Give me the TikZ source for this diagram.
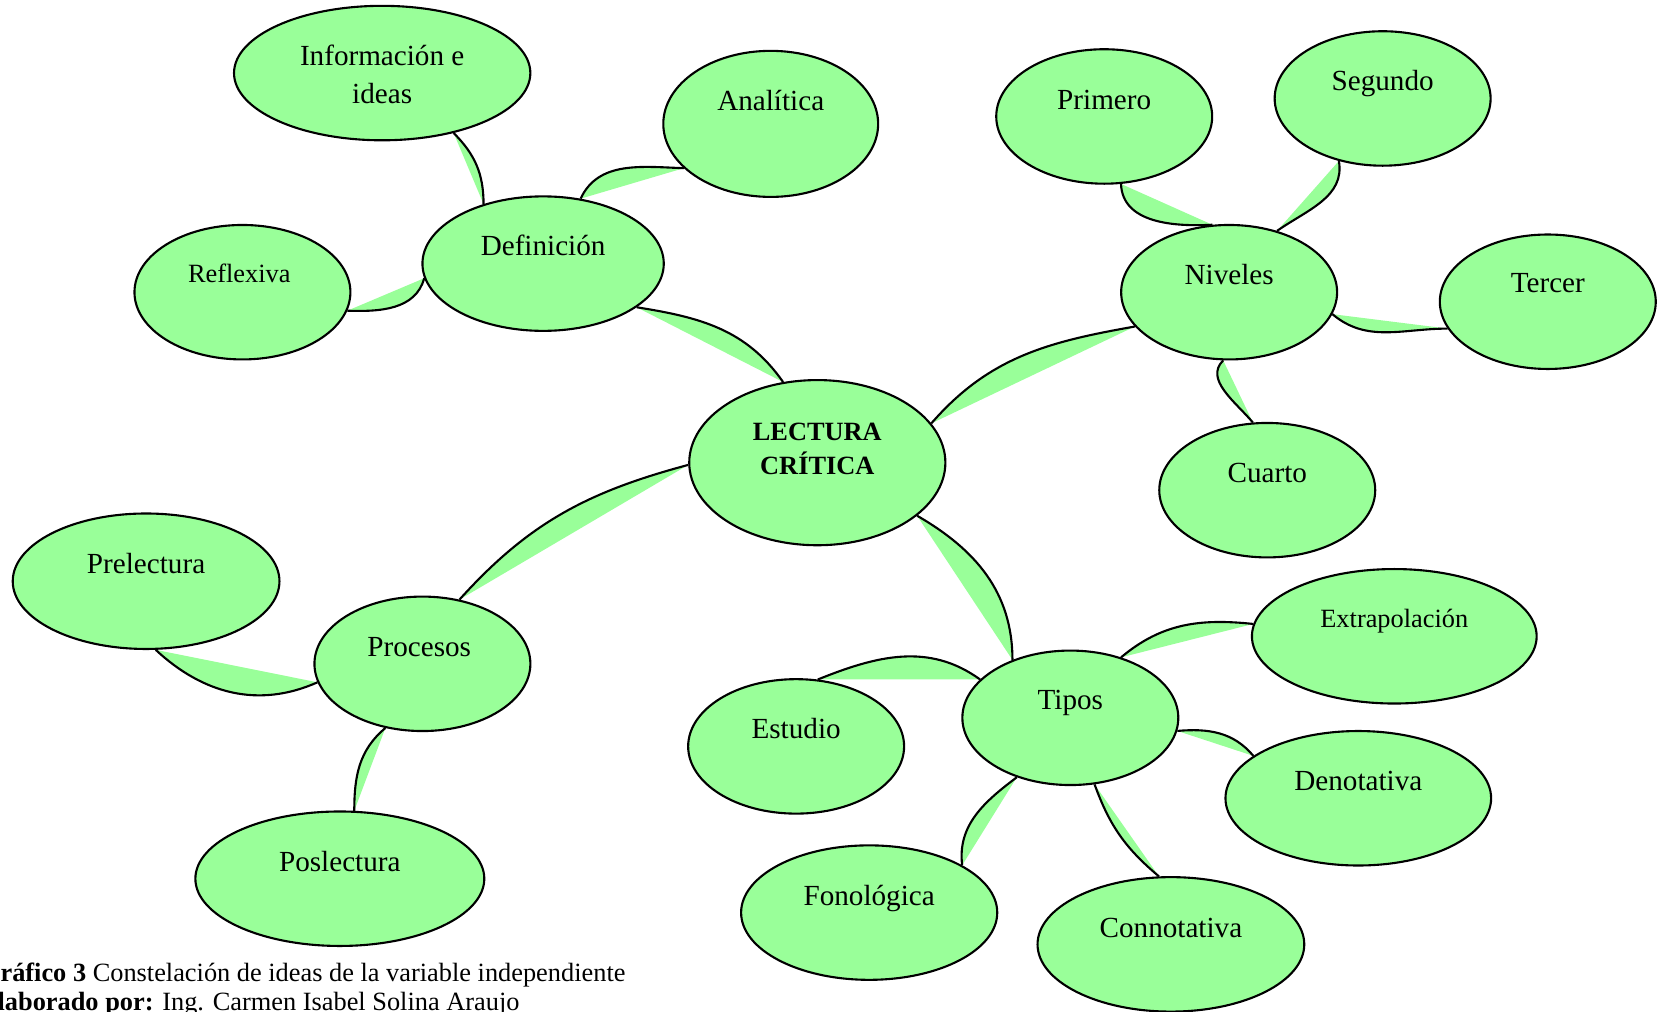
\documentclass[tikz,border=0pt]{standalone}
\usepackage{fontspec}
\setmainfont{Liberation Serif}
\usetikzlibrary{shapes.geometric,backgrounds}
\definecolor{black}{RGB}{0,0,0}
\definecolor{light_green}{RGB}{153,255,153}

\begin{document}
\begin{tikzpicture}[x=0.010587cm,y=-0.010587cm,
	idea/.style={ellipse,draw=black,fill=light_green,line width=0.6pt,inner sep=0pt,minimum width=2.16cm,minimum height=1.345cm},
	word/.style={inner sep=0pt,font=\fontsize{8.3}{10.8}\selectfont,text height=1.5ex,text depth=.25ex},
	small_word/.style={word,font=\fontsize{7.5}{9}\selectfont},
	leaf/.style={fill=light_green},
	stem/.style={draw=black,line width=0.6pt}]
	\useasboundingbox (0,0) rectangle (1568,955);

	\node[idea,minimum width=2.562cm,minimum height=1.652cm] (lec) at (772,437) {};
	\node[idea,minimum width=2.414cm] (def) at (513,249) {};
	\node[idea,minimum width=2.964cm] (inf) at (361,69) {};
	\node[idea,minimum width=2.149cm,minimum height=1.461cm] (ana) at (728,117) {};
	\node[idea] (ref) at (229,276) {};
	\node[idea] (niv) at (1161,276) {};
	\node[idea] (pri) at (1043,110) {};
	\node[idea] (seg) at (1306,93) {};
	\node[idea] (ter) at (1462,285) {};
	\node[idea] (cua) at (1197,463) {};
	\node[idea] (pro) at (399,627) {};
	\node[idea,minimum width=2.668cm,minimum height=1.355cm] (pre) at (138,549) {};
	\node[idea,minimum width=2.890cm] (pos) at (321,830) {};
	\node[idea] (tip) at (1011,678) {};
	\node[idea] (est) at (752,705) {};
	\node[idea,minimum width=2.848cm] (ext) at (1317,601) {};
	\node[idea,minimum width=2.657cm] (den) at (1283,754) {};
	\node[idea,minimum width=2.562cm] (fon) at (821,862) {};
	\node[idea,minimum width=2.668cm] (con) at (1106,892) {};

	\node[inner sep=0pt,align=center,font=\fontsize{7.5}{9.94}\selectfont\bfseries] (lec_t) at (772,424) {LECTURA\\CRÍTICA};
	\node[inner sep=0pt,align=center,font=\fontsize{8.3}{10.85}\selectfont] (inf_t) at (361,70) {Información e\\ideas};
	\node[word] (def_t) at (513,232) {Definición};
	\node[word] (ana_t) at (728,95) {Analítica};
	\node[small_word] (ref_t) at (226,257) {Reflexiva};
	\node[word] (niv_t) at (1161,259) {Niveles};
	\node[word] (pri_t) at (1043,94) {Primero};
	\node[word] (seg_t) at (1306,76) {Segundo};
	\node[word] (ter_t) at (1462,267) {Tercer};
	\node[word] (cua_t) at (1197,446) {Cuarto};
	\node[word] (pro_t) at (396,611) {Procesos};
	\node[word] (pre_t) at (138,532) {Prelectura};
	\node[word] (pos_t) at (321,814) {Poslectura};
	\node[word] (tip_t) at (1011,661) {Tipos};
	\node[word] (est_t) at (752,688) {Estudio};
	\node[small_word] (ext_t) at (1317,583) {Extrapolación};
	\node[word] (den_t) at (1283,737) {Denotativa};
	\node[word] (fon_t) at (821,846) {Fonológica};
	\node[word] (con_t) at (1106,876) {Connotativa};

	\begin{scope}[on background layer]
		\foreach \a/\b/\o/\i in {def.-25/lec.113/-9/125, niv.200/lec.19/190/49, lec.181/pro.60/195/48,
			lec.-28/tip.135/-30/90, inf.-40/def.135/-45/90, ana.207/def.60/178/65, ref.-10/def.187/-2/-105,
			pri.-76/niv.104/-88/183, seg.235/niv.52/-80/35, niv.-12/ter.195/-40/180, niv.-95/cua.102/225/130,
			pro.190/pre.-82/204/-43, pro.240/pos.78/220/90, tip.157/est.72/144/22, tip.50/ext.175/40/174,
			tip.-7/den.158/5/130, tip.228/fon.27/217/97, tip.-70/con.100/-70/140}
		{
			\fill[leaf] (\a) to[out=\o,in=\i] (\b) -- cycle;
			\draw[stem] (\a) to[out=\o,in=\i] (\b);
		}
	\end{scope}

	\node[anchor=north west,align=left,inner sep=0pt,font=\fontsize{7.5}{8.3}\selectfont] (caption) at (-19.5,909)
		{\textbf{Gráfico 3} Constelación de ideas de la variable independiente\\\textbf{Elaborado por:} Ing. Carmen Isabel Solina Araujo};
\end{tikzpicture}
\end{document}
